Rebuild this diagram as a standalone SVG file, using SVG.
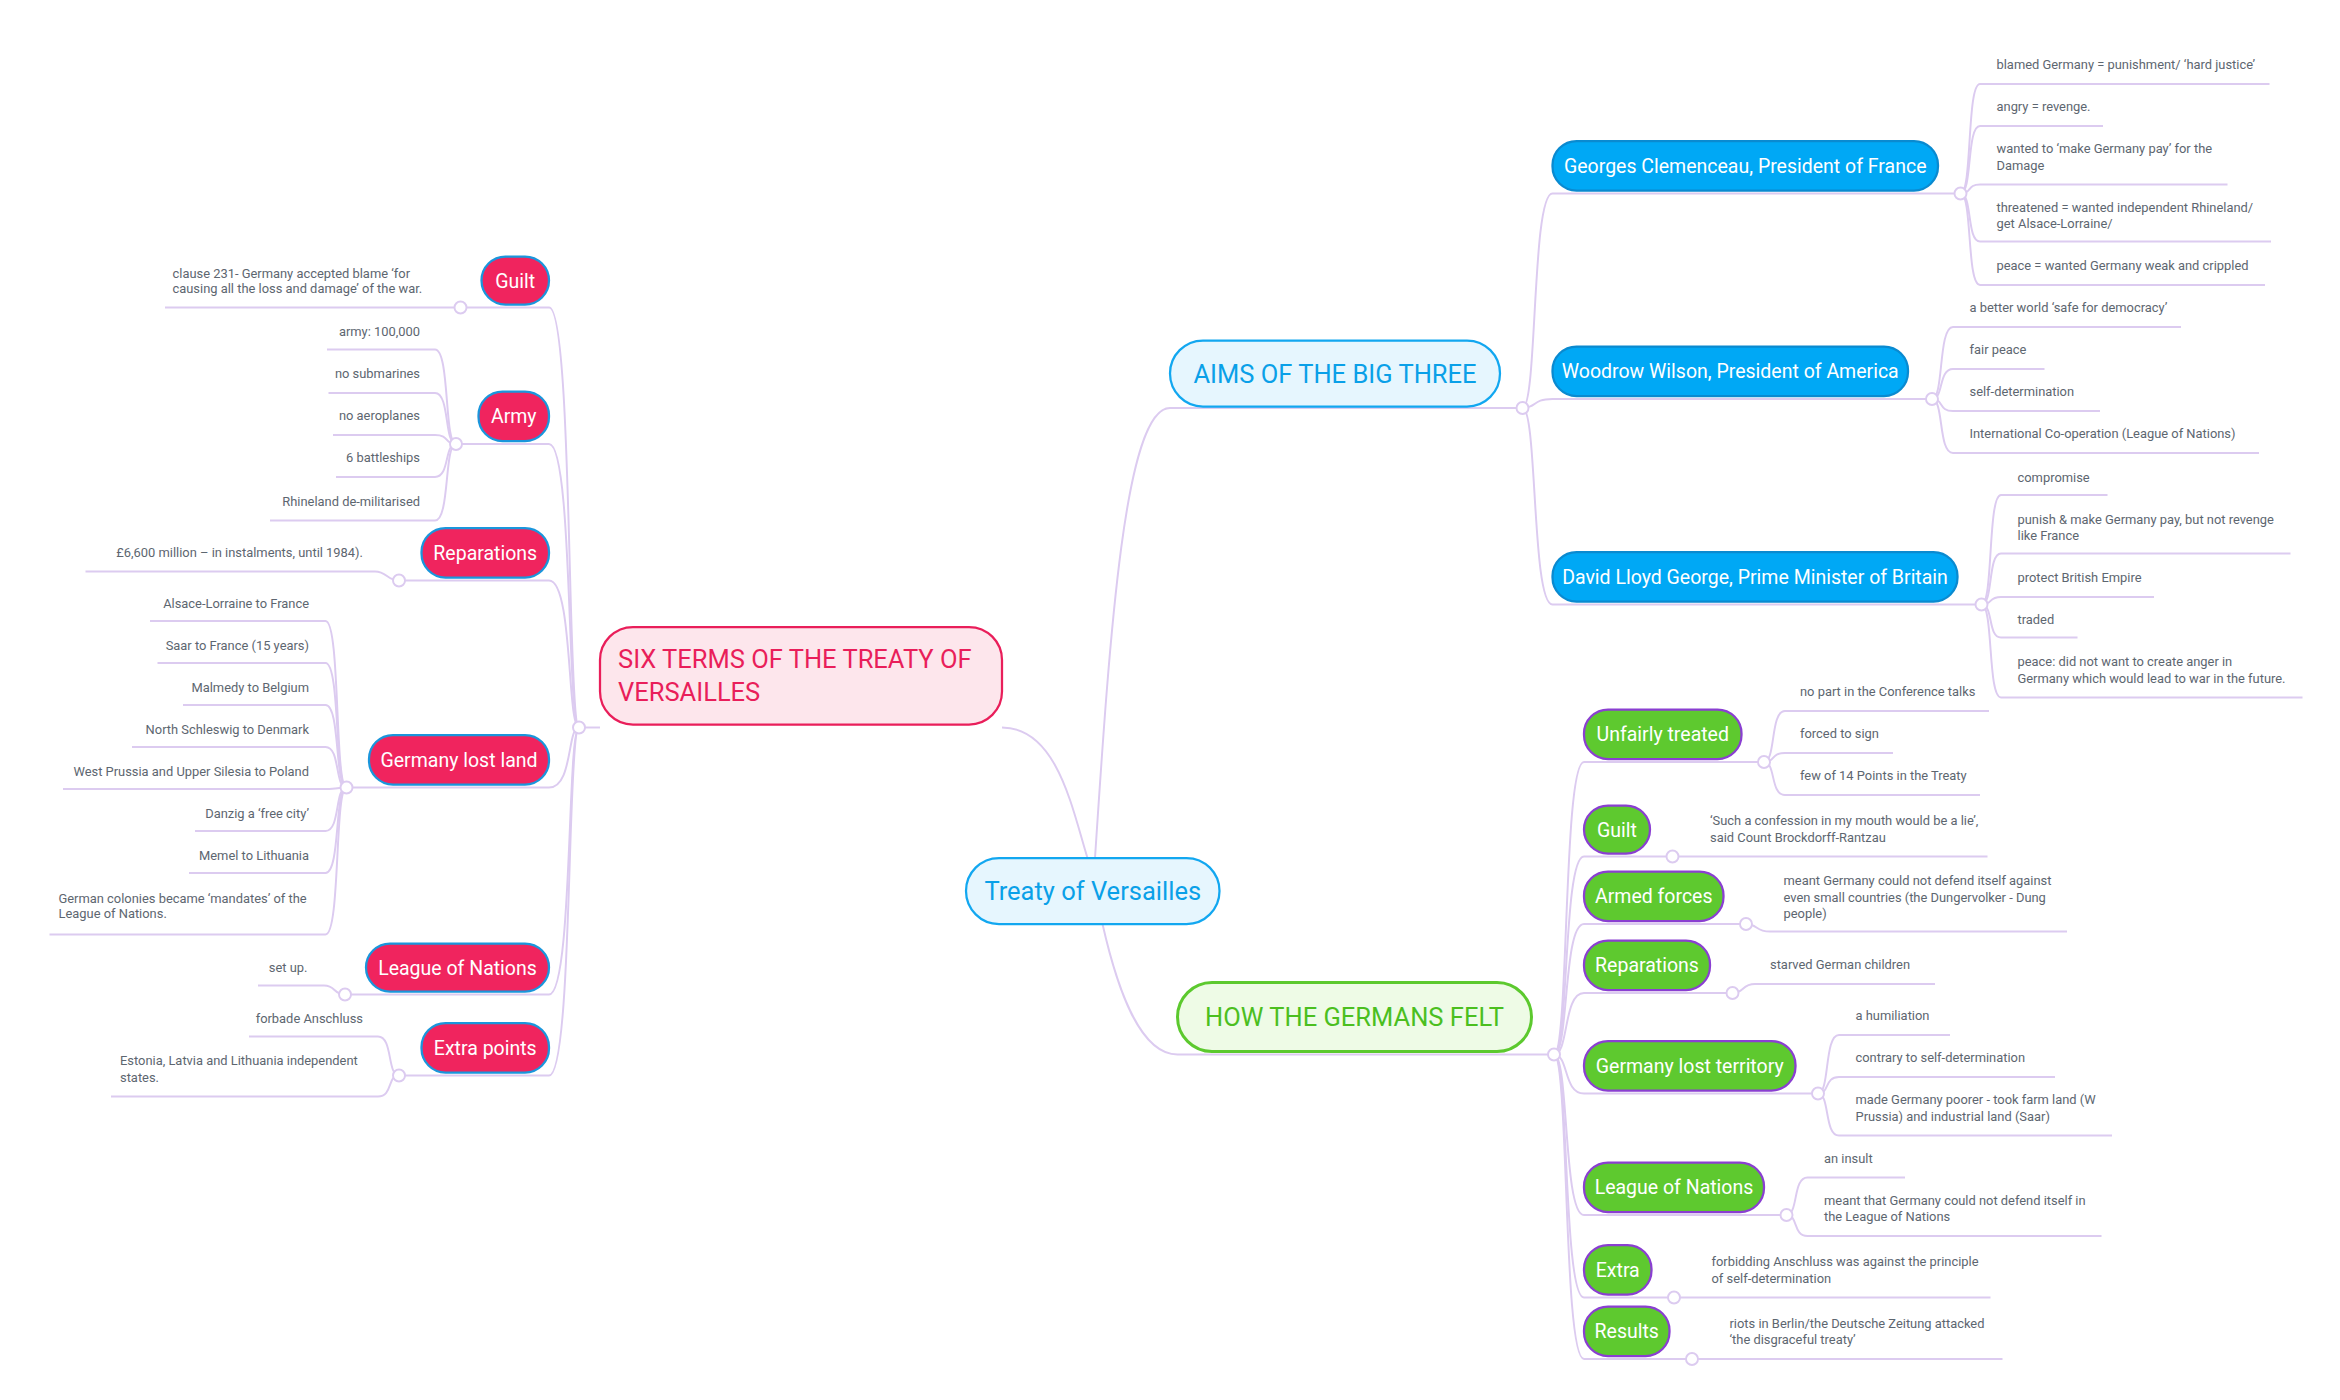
<svg xmlns="http://www.w3.org/2000/svg" width="2340" height="1400" viewBox="0 0 2340 1400">
<style>
.c{fill:none;stroke:#dccbf0;stroke-width:1.3}
.h{fill:#fff;stroke:#dccbf0;stroke-width:1.3}
.lf{font-family:Roboto,"Liberation Sans",sans-serif;font-size:8.6px;fill:#5d6670}
.lfe{font-family:Roboto,"Liberation Sans",sans-serif;font-size:8.6px;fill:#5d6670;text-anchor:end}
.rn{fill:#f0245e;stroke:#1a96dc;stroke-width:1.5}
.bn{fill:#00a8f5;stroke:#0a8ad0;stroke-width:1.5}
.gn{fill:#5ec92f;stroke:#8a3fd1;stroke-width:1.5}
.nt{font-family:Roboto,"Liberation Sans",sans-serif;font-size:13px;fill:#fff}
.mt{font-family:Roboto,"Liberation Sans",sans-serif;font-size:17px}
</style>
<rect width="2340" height="1400" fill="#fff"/>
<g transform="scale(1.5)">
<g id="connectors">
<!-- main -->
<path class="c" d="M668,485 C705,485 715,540 725,572"/>
<path class="c" d="M400,485 L386,485"/>
<path class="c" d="M730,572 C740,420 750,272 780,272 L1000,272 L1015,272"/>
<path class="c" d="M735,616 C745,660 760,703 785,703 L1036,703"/>
<!-- left trunk -->
<path class="c" d="M386,485 C378,485 382,205 366,205 L321,205 L307,205"/>
<path class="c" d="M386,485 C378,485 382,296 366,296 L304,296"/>
<path class="c" d="M386,485 C378,485 382,387 366,387 L266,387"/>
<path class="c" d="M386,485 C378,485 382,525 366,525 L231,525"/>
<path class="c" d="M386,485 C378,485 382,663 366,663 L230,663"/>
<path class="c" d="M386,485 C378,485 382,717 366,717 L266,717"/>
<!-- left leaves -->
<path class="c" d="M307,205 L110,205"/>
<path class="c" d="M304,296 C296,296 300,233 290,233 L218,233"/>
<path class="c" d="M304,296 C296,296 300,262 290,262 L219,262"/>
<path class="c" d="M304,296 C296,296 300,290 290,290 L222,290"/>
<path class="c" d="M304,296 C296,296 300,318 290,318 L224,318"/>
<path class="c" d="M304,296 C296,296 300,347 290,347 L180,347"/>
<path class="c" d="M266,387 C258,387 258,381 250,381 L57,381"/>
<path class="c" d="M231,525 C223,525 227,414 217,414 L100,414"/>
<path class="c" d="M231,525 C223,525 227,442 217,442 L105,442"/>
<path class="c" d="M231,525 C223,525 227,470 217,470 L122,470"/>
<path class="c" d="M231,525 C223,525 227,498 217,498 L88,498"/>
<path class="c" d="M231,525 C223,525 227,526 217,526 L42,526"/>
<path class="c" d="M231,525 C223,525 227,554 217,554 L130,554"/>
<path class="c" d="M231,525 C223,525 227,582 217,582 L126,582"/>
<path class="c" d="M231,525 C223,525 227,623 217,623 L33,623"/>
<path class="c" d="M230,663 C222,663 224,657 216,657 L172,657"/>
<path class="c" d="M266,717 C258,717 262,691 252,691 L166,691"/>
<path class="c" d="M266,717 C258,717 262,731 252,731 L74,731"/>
<!-- aims -->
<path class="c" d="M1015,272 C1025,272 1021,129 1035,129 L1307,129"/>
<path class="c" d="M1015,272 C1025,272 1021,266 1035,266 L1288,266"/>
<path class="c" d="M1015,272 C1025,272 1021,403 1035,403 L1321,403"/>
<path class="c" d="M1307,129 C1315,129 1311,56 1320,56 L1513,56"/>
<path class="c" d="M1307,129 C1315,129 1311,84 1320,84 L1402,84"/>
<path class="c" d="M1307,129 C1315,129 1311,123 1320,123 L1485,123"/>
<path class="c" d="M1307,129 C1315,129 1311,161 1320,161 L1514,161"/>
<path class="c" d="M1307,129 C1315,129 1311,190 1320,190 L1510,190"/>
<path class="c" d="M1288,266 C1296,266 1292,218 1302,218 L1454,218"/>
<path class="c" d="M1288,266 C1296,266 1292,246 1302,246 L1363,246"/>
<path class="c" d="M1288,266 C1296,266 1292,274 1302,274 L1400,274"/>
<path class="c" d="M1288,266 C1296,266 1292,302 1302,302 L1506,302"/>
<path class="c" d="M1321,403 C1329,403 1325,330 1334,330 L1405,330"/>
<path class="c" d="M1321,403 C1329,403 1325,369 1334,369 L1527,369"/>
<path class="c" d="M1321,403 C1329,403 1325,398 1334,398 L1436,398"/>
<path class="c" d="M1321,403 C1329,403 1325,425 1334,425 L1385,425"/>
<path class="c" d="M1321,403 C1329,403 1325,465 1334,465 L1535,465"/>
<!-- germans -->
<path class="c" d="M1036,703 C1046,703 1042,508 1056,508 L1176,508"/>
<path class="c" d="M1036,703 C1046,703 1042,571 1056,571 L1115,571"/>
<path class="c" d="M1036,703 C1046,703 1042,616 1056,616 L1164,616"/>
<path class="c" d="M1036,703 C1046,703 1042,662 1056,662 L1155,662"/>
<path class="c" d="M1036,703 C1046,703 1042,729 1056,729 L1212,729"/>
<path class="c" d="M1036,703 C1046,703 1042,810 1056,810 L1191,810"/>
<path class="c" d="M1036,703 C1046,703 1042,865 1056,865 L1116,865"/>
<path class="c" d="M1036,703 C1046,703 1042,906 1056,906 L1128,906"/>
<path class="c" d="M1176,508 C1184,508 1180,474 1190,474 L1326,474"/>
<path class="c" d="M1176,508 C1184,508 1180,502 1190,502 L1262,502"/>
<path class="c" d="M1176,508 C1184,508 1180,530 1190,530 L1320,530"/>
<path class="c" d="M1115,571 C1123,571 1120,571 1130,571 L1325,571"/>
<path class="c" d="M1164,616 C1172,616 1170,621 1180,621 L1378,621"/>
<path class="c" d="M1155,662 C1163,662 1161,656 1170,656 L1290,656"/>
<path class="c" d="M1212,729 C1220,729 1216,690 1226,690 L1300,690"/>
<path class="c" d="M1212,729 C1220,729 1216,718 1226,718 L1370,718"/>
<path class="c" d="M1212,729 C1220,729 1216,757 1226,757 L1408,757"/>
<path class="c" d="M1191,810 C1199,810 1195,785 1205,785 L1270,785"/>
<path class="c" d="M1191,810 C1199,810 1195,824 1205,824 L1401,824"/>
<path class="c" d="M1116,865 L1327,865"/>
<path class="c" d="M1128,906 L1335,906"/>
<!-- hubs -->
<circle class="h" cx="386" cy="485" r="4"/><circle class="h" cx="1015" cy="272" r="4"/><circle class="h" cx="1036" cy="703" r="4"/>
<circle class="h" cx="307" cy="205" r="4"/><circle class="h" cx="304" cy="296" r="4"/><circle class="h" cx="266" cy="387" r="4"/><circle class="h" cx="231" cy="525" r="4"/><circle class="h" cx="230" cy="663" r="4"/><circle class="h" cx="266" cy="717" r="4"/>
<circle class="h" cx="1307" cy="129" r="4"/><circle class="h" cx="1288" cy="266" r="4"/><circle class="h" cx="1321" cy="403" r="4"/>
<circle class="h" cx="1176" cy="508" r="4"/><circle class="h" cx="1115" cy="571" r="4"/><circle class="h" cx="1164" cy="616" r="4"/><circle class="h" cx="1155" cy="662" r="4"/><circle class="h" cx="1212" cy="729" r="4"/><circle class="h" cx="1191" cy="810" r="4"/><circle class="h" cx="1116" cy="865" r="4"/><circle class="h" cx="1128" cy="906" r="4"/>
</g>
<g id="root"><rect x="644" y="572" width="169" height="44" rx="22" fill="#e6f6fe" stroke="#12a7f0" stroke-width="1.5"/><text class="mt" x="728.5" y="600" text-anchor="middle" fill="#0aa0e8">Treaty of Versailles</text></g>
<g id="six-terms"><rect x="400" y="418" width="268" height="65" rx="22" fill="#fde6ec" stroke="#e91e5a" stroke-width="1.5"/><text class="mt" x="412" y="445" fill="#e91e5a">SIX TERMS OF THE TREATY OF</text><text class="mt" x="412" y="467" fill="#e91e5a">VERSAILLES</text></g>
<g id="aims"><rect x="780" y="227" width="220" height="44" rx="22" fill="#e6f6fe" stroke="#12a7f0" stroke-width="1.5"/><text class="mt" x="890" y="255" text-anchor="middle" fill="#0aa0e8">AIMS OF THE BIG THREE</text></g>
<g id="germans"><rect x="785" y="655" width="236" height="46" rx="23" fill="#eefbe6" stroke="#5cc92e" stroke-width="2"/><text class="mt" x="903" y="684" text-anchor="middle" fill="#4bbf1f">HOW THE GERMANS FELT</text></g>

<g id="l-guilt"><rect class="rn" x="321" y="171" width="45" height="32" rx="16"/><text class="nt" x="343.5" y="192" text-anchor="middle">Guilt</text>
<text class="lf" x="115" y="185">clause 231- Germany accepted blame ‘for</text><text class="lf" x="115" y="195">causing all the loss and damage’ of the war.</text></g>
<g id="l-army"><rect class="rn" x="319" y="261" width="47" height="33" rx="16"/><text class="nt" x="342.5" y="282" text-anchor="middle">Army</text>
<text class="lfe" x="280" y="224">army: 100,000</text><text class="lfe" x="280" y="252">no submarines</text><text class="lfe" x="280" y="280">no aeroplanes</text><text class="lfe" x="280" y="308">6 battleships</text><text class="lfe" x="280" y="337">Rhineland de-militarised</text></g>
<g id="l-rep"><rect class="rn" x="281" y="352" width="85" height="33" rx="16"/><text class="nt" x="323.5" y="373" text-anchor="middle">Reparations</text>
<text class="lfe" x="242" y="371">£6,600 million – in instalments, until 1984).</text></g>
<g id="l-land"><rect class="rn" x="246" y="490" width="120" height="33" rx="16"/><text class="nt" x="306" y="511" text-anchor="middle">Germany lost land</text>
<text class="lfe" x="206" y="405">Alsace-Lorraine to France</text><text class="lfe" x="206" y="433">Saar to France (15 years)</text><text class="lfe" x="206" y="461">Malmedy to Belgium</text><text class="lfe" x="206" y="489">North Schleswig to Denmark</text><text class="lfe" x="206" y="517">West Prussia and Upper Silesia to Poland</text><text class="lfe" x="206" y="545">Danzig a ‘free city’</text><text class="lfe" x="206" y="573">Memel to Lithuania</text>
<text class="lf" x="39" y="602">German colonies became ‘mandates’ of the</text><text class="lf" x="39" y="612">League of Nations.</text></g>
<g id="l-league"><rect class="rn" x="244" y="629" width="122" height="32" rx="16"/><text class="nt" x="305" y="650" text-anchor="middle">League of Nations</text>
<text class="lfe" x="205" y="648">set up.</text></g>
<g id="l-extra"><rect class="rn" x="281" y="682" width="85" height="33" rx="16"/><text class="nt" x="323.5" y="703" text-anchor="middle">Extra points</text>
<text class="lfe" x="242" y="682">forbade Anschluss</text><text class="lf" x="80" y="710">Estonia, Latvia and Lithuania independent</text><text class="lf" x="80" y="721">states.</text></g>

<g id="r-clem"><rect class="bn" x="1035" y="94" width="257" height="33" rx="16"/><text class="nt" x="1163.5" y="115" text-anchor="middle">Georges Clemenceau, President of France</text>
<text class="lf" x="1331" y="46">blamed Germany = punishment/ ‘hard justice’</text><text class="lf" x="1331" y="74">angry = revenge.</text><text class="lf" x="1331" y="102">wanted to ‘make Germany pay’ for the</text><text class="lf" x="1331" y="113">Damage</text><text class="lf" x="1331" y="141">threatened = wanted independent Rhineland/</text><text class="lf" x="1331" y="152">get Alsace-Lorraine/</text><text class="lf" x="1331" y="180">peace = wanted Germany weak and crippled</text></g>
<g id="r-wilson"><rect class="bn" x="1035" y="231" width="237" height="33" rx="16"/><text class="nt" x="1153.5" y="252" text-anchor="middle">Woodrow Wilson, President of America</text>
<text class="lf" x="1313" y="208">a better world ‘safe for democracy’</text><text class="lf" x="1313" y="236">fair peace</text><text class="lf" x="1313" y="264">self-determination</text><text class="lf" x="1313" y="292">International Co-operation (League of Nations)</text></g>
<g id="r-lloyd"><rect class="bn" x="1035" y="368" width="270" height="33" rx="16"/><text class="nt" x="1170" y="389" text-anchor="middle">David Lloyd George, Prime Minister of Britain</text>
<text class="lf" x="1345" y="321">compromise</text><text class="lf" x="1345" y="349">punish &amp; make Germany pay, but not revenge</text><text class="lf" x="1345" y="360">like France</text><text class="lf" x="1345" y="388">protect British Empire</text><text class="lf" x="1345" y="416">traded</text><text class="lf" x="1345" y="444">peace: did not want to create anger in</text><text class="lf" x="1345" y="455">Germany which would lead to war in the future.</text></g>

<g id="g-unfair"><rect class="gn" x="1056" y="473" width="105" height="33" rx="16"/><text class="nt" x="1108.5" y="494" text-anchor="middle">Unfairly treated</text>
<text class="lf" x="1200" y="464">no part in the Conference talks</text><text class="lf" x="1200" y="492">forced to sign</text><text class="lf" x="1200" y="520">few of 14 Points in the Treaty</text></g>
<g id="g-guilt"><rect class="gn" x="1056" y="537" width="44" height="32" rx="16"/><text class="nt" x="1078" y="558" text-anchor="middle">Guilt</text>
<text class="lf" x="1140" y="550">‘Such a confession in my mouth would be a lie’,</text><text class="lf" x="1140" y="561">said Count Brockdorff-Rantzau</text></g>
<g id="g-armed"><rect class="gn" x="1056" y="581" width="93" height="33" rx="16"/><text class="nt" x="1102.5" y="602" text-anchor="middle">Armed forces</text>
<text class="lf" x="1189" y="590">meant Germany could not defend itself against</text><text class="lf" x="1189" y="601">even small countries (the Dungervolker - Dung</text><text class="lf" x="1189" y="612">people)</text></g>
<g id="g-rep"><rect class="gn" x="1056" y="627" width="84" height="33" rx="16"/><text class="nt" x="1098" y="648" text-anchor="middle">Reparations</text>
<text class="lf" x="1180" y="646">starved German children</text></g>
<g id="g-terr"><rect class="gn" x="1056" y="694" width="141" height="33" rx="16"/><text class="nt" x="1126.5" y="715" text-anchor="middle">Germany lost territory</text>
<text class="lf" x="1237" y="680">a humiliation</text><text class="lf" x="1237" y="708">contrary to self-determination</text><text class="lf" x="1237" y="736">made Germany poorer - took farm land (W</text><text class="lf" x="1237" y="747">Prussia) and industrial land (Saar)</text></g>
<g id="g-league"><rect class="gn" x="1056" y="775" width="120" height="33" rx="16"/><text class="nt" x="1116" y="796" text-anchor="middle">League of Nations</text>
<text class="lf" x="1216" y="775">an insult</text><text class="lf" x="1216" y="803">meant that Germany could not defend itself in</text><text class="lf" x="1216" y="814">the League of Nations</text></g>
<g id="g-extra"><rect class="gn" x="1056" y="830" width="45" height="33" rx="16"/><text class="nt" x="1078.5" y="851" text-anchor="middle">Extra</text>
<text class="lf" x="1141" y="844">forbidding Anschluss was against the principle</text><text class="lf" x="1141" y="855">of self-determination</text></g>
<g id="g-results"><rect class="gn" x="1056" y="871" width="57" height="33" rx="16"/><text class="nt" x="1084.5" y="892" text-anchor="middle">Results</text>
<text class="lf" x="1153" y="885">riots in Berlin/the Deutsche Zeitung attacked</text><text class="lf" x="1153" y="896">‘the disgraceful treaty’</text></g>
</g>
</svg>
